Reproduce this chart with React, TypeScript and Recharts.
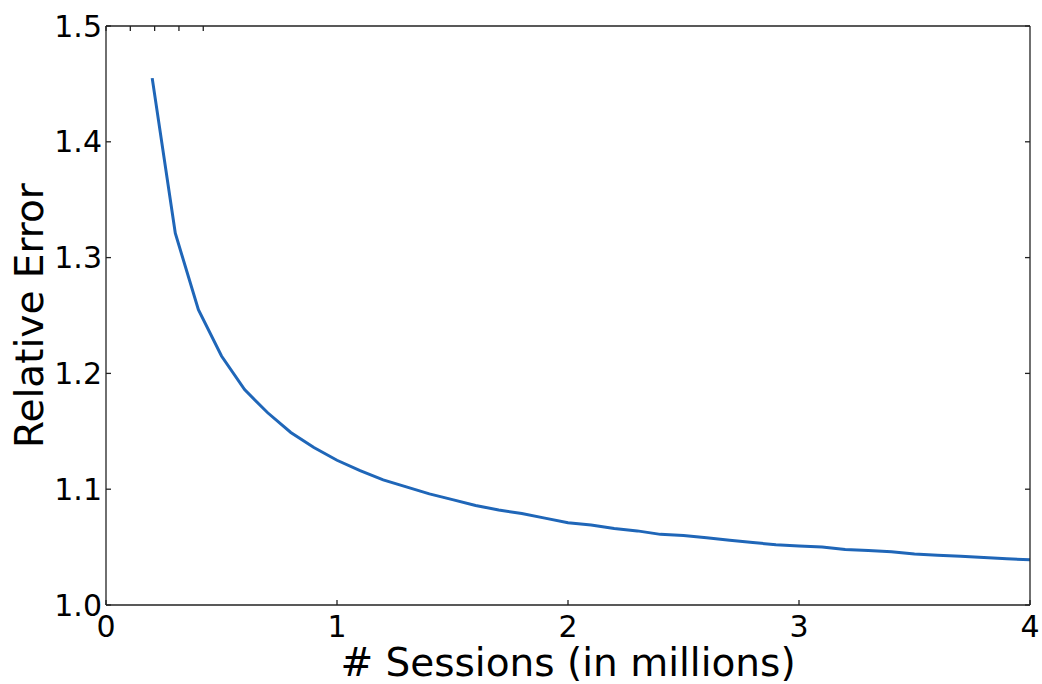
import React from 'react';
import { LineChart, Line, XAxis, YAxis } from 'recharts';

const sessions = [
  0.2, 0.3, 0.4, 0.5, 0.6, 0.7, 0.8, 0.9, 1.0, 1.1, 1.2, 1.3, 1.4, 1.5, 1.6, 1.7, 1.8, 1.9, 2.0,
  2.1, 2.2, 2.3, 2.4, 2.5, 2.6, 2.7, 2.8, 2.9, 3.0, 3.1, 3.2, 3.3, 3.4, 3.5, 3.6, 3.7, 3.8, 3.9, 4.0,
];
const relativeError = [
  1.455, 1.321, 1.255, 1.215, 1.186, 1.166, 1.149, 1.136, 1.125, 1.116, 1.108, 1.102, 1.096,
  1.091, 1.086, 1.082, 1.079, 1.075, 1.071, 1.069, 1.066, 1.064, 1.061, 1.06, 1.058, 1.056,
  1.054, 1.052, 1.051, 1.05, 1.048, 1.047, 1.046, 1.044, 1.043, 1.042, 1.041, 1.04, 1.039,
];
const xTicks = [0, 1, 2, 3, 4];
const yTicks = [1.0, 1.1, 1.2, 1.3, 1.4, 1.5];

const chartData = sessions.map((s, i) => ({ s, err: relativeError[i] }));

const font = 'DejaVu Sans, sans-serif';
const tickStyle = { fontSize: 30, fill: '#000', fontFamily: font };
const axisColor = '#222';

const App: React.FC = () => {
  return (
    <div style={{ position: 'absolute', left: 0, top: 0, width: 1042, height: 684, background: '#fff' }}>
      <LineChart width={1042} height={684} data={chartData} margin={{ top: 0, right: 0, bottom: 0, left: 0 }}>
        <XAxis
          dataKey="s"
          type="number"
          domain={[0, 4]}
          ticks={xTicks}
          allowDataOverflow
          height={79}
          tickSize={-5}
          tickMargin={16}
          tick={tickStyle}
          stroke={axisColor}
          strokeWidth={1.3}
          label={{
            value: '# Sessions (in millions)',
            position: 'insideBottom',
            offset: 8,
            style: { fontSize: 39, fill: '#000', fontFamily: font },
          }}
        />
        <XAxis
          xAxisId="top"
          orientation="top"
          type="number"
          domain={[0, 4]}
          ticks={xTicks}
          allowDataOverflow
          height={26}
          tickSize={-5}
          tickFormatter={() => ''}
          stroke={axisColor}
          strokeWidth={1.3}
        />
        <YAxis
          type="number"
          domain={[1.0, 1.5]}
          ticks={yTicks}
          allowDataOverflow
          width={106}
          tickSize={-5}
          tickMargin={9}
          tick={tickStyle}
          tickFormatter={(v: number) => v.toFixed(1)}
          stroke={axisColor}
          strokeWidth={1.3}
          label={({ viewBox }: any) => {
            const cx = 43;
            const cy = viewBox.y + viewBox.height / 2;
            return (
              <text
                x={cx}
                y={cy}
                transform={`rotate(-90 ${cx} ${cy})`}
                textAnchor="middle"
                style={{ fontSize: 39, fill: '#000', fontFamily: font }}
              >
                Relative Error
              </text>
            );
          }}
        />
        <YAxis
          yAxisId="right"
          orientation="right"
          type="number"
          domain={[1.0, 1.5]}
          ticks={yTicks}
          allowDataOverflow
          width={12}
          tickSize={-5}
          tickFormatter={() => ''}
          stroke={axisColor}
          strokeWidth={1.3}
        />
        <Line
          type="linear"
          dataKey="err"
          stroke="#1f66b8"
          strokeWidth={3}
          dot={false}
          isAnimationActive={false}
        />
      </LineChart>
    </div>
  );
};

export default App;
